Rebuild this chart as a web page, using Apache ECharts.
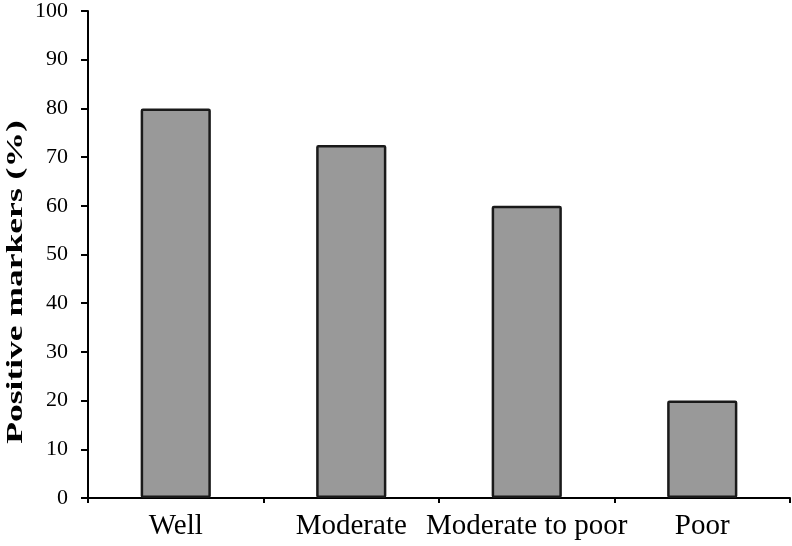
<!DOCTYPE html>
<html><head><meta charset="utf-8">
<script src="https://cdn.jsdelivr.net/npm/echarts@6/dist/echarts.min.js"></script>
<style>html,body{margin:0;padding:0;background:#fff}#c{width:792px;height:546px}</style>
</head><body><div id="c"></div>
<script>
const categories = ['Well', 'Moderate', 'Moderate to poor', 'Poor'];
const values = [80, 72.5, 60, 20];
const yTitle = 'Positive markers (%)';

const chart = echarts.init(document.getElementById('c'), null, {renderer: 'canvas'});
chart.setOption({
  animation: false,
  backgroundColor: '#fff',
  grid: {left: 88, right: 2, top: 10, bottom: 48, containLabel: false},
  xAxis: {
    type: 'category', data: categories,
    axisLine: {lineStyle: {color: '#000', width: 2}},
    axisTick: {show: true, alignWithLabel: false, length: 5, lineStyle: {color: '#000', width: 2}},
    axisLabel: {color: '#000', fontFamily: 'Liberation Serif', fontSize: 29, margin: 14, interval: 0}
  },
  yAxis: {
    type: 'value', min: 0, max: 100, interval: 10,
    splitLine: {show: false},
    axisLine: {show: true, lineStyle: {color: '#000', width: 2}},
    axisTick: {show: true, length: 7, lineStyle: {color: '#000', width: 2}},
    axisLabel: {color: '#000', fontFamily: 'Liberation Serif', fontSize: 22, margin: 20}
  },
  graphic: [{
    type: 'text', x: 16, y: 282, rotation: Math.PI / 2, scaleX: 1.48,
    style: {text: yTitle, font: 'bold 24px "Liberation Serif"', fill: '#000',
      textAlign: 'center', textVerticalAlign: 'middle'}
  }],
  series: [{
    type: 'bar', data: values, barWidth: '40%',
    itemStyle: {color: '#999999', borderColor: '#1a1a1a', borderWidth: 2.5, borderRadius: 1}
  }]
});
</script></body></html>
